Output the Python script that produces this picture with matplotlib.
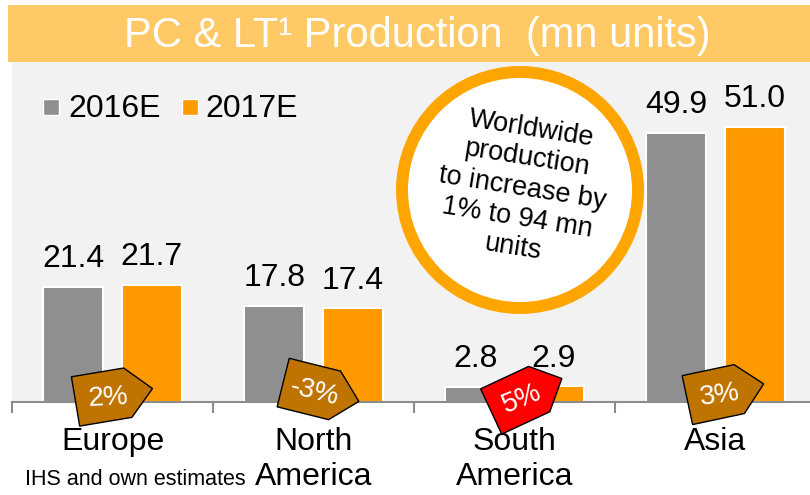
import numpy as np
import matplotlib
matplotlib.use('Agg')
import matplotlib.pyplot as plt
from matplotlib.patches import Rectangle, Ellipse, Polygon
from matplotlib.transforms import Affine2D

plt.rcParams['font.family'] = ['Liberation Sans', 'DejaVu Sans']

# data
regions = ['Europe', 'North\nAmerica', 'South\nAmerica', 'Asia']
prod_2016 = [21.4, 17.8, 2.8, 49.9]
prod_2017 = [21.7, 17.4, 2.9, 51.0]
growth = ['2%', '-3%', '5%', '3%']
years = ['2016E', '2017E']
title = 'PC & LT\u00b9 Production  (mn units)'
note = 'Worldwide\nproduction\nto increase by\n1% to 94 mn\nunits'
source = 'IHS and own estimates'

gray = '#8f8f8f'
orange = '#ff9900'
brown = '#bf7300'

W, H = 810, 495
fig = plt.figure(figsize=(W / 100, H / 100), dpi=100)
# pixel coords, origin top-left
px = Affine2D().scale(1 / W, -1 / H).translate(0, 1) + fig.transFigure


def px_box(x0, y0, x1, y1):
    return [x0 / W, 1 - y1 / H, (x1 - x0) / W, (y1 - y0) / H]


ax = fig.add_axes(px_box(12, 62, 810, 402))
ax.set_facecolor('#f2f2f2')

x = np.arange(len(regions))
w, off = 0.30, 0.195
b1 = ax.bar(x - off, prod_2016, w, color=gray, edgecolor='white', linewidth=1.5)
b2 = ax.bar(x + off, prod_2017, w, color=orange, edgecolor='white', linewidth=1.5)
for bars, vals in ((b1, prod_2016), (b2, prod_2017)):
    for r, v in zip(bars, vals):
        ax.annotate(f'{v:.1f}', (r.get_x() + r.get_width() / 2, v), xytext=(0, 14),
                    textcoords='offset points', ha='center', va='baseline', fontsize=23)

ax.set_xlim(-0.5, 3.47)
ax.set_ylim(0, 63)
for s in ['top', 'right', 'left']:
    ax.spines[s].set_visible(False)
ax.spines['bottom'].set_color('#8c8c8c')
ax.spines['bottom'].set_linewidth(1.5)
ax.set_yticks([])
ax.set_xticks(x)
ax.set_xticklabels(regions, fontsize=23)
ax.tick_params(axis='x', which='major', length=0, pad=18)
ax.set_xticks(x - 0.5, minor=True)
ax.tick_params(axis='x', which='minor', length=8, width=1.5, color='#8c8c8c')

# title bar
fig.add_artist(Rectangle((8, 5), 802, 57, transform=px, facecolor='#ffc966', edgecolor='none'))
fig.text(417 / W, 1 - 36 / H, title, color='white', fontsize=30, ha='center', va='center')

# legend
for (sx, tx), lab, c in zip([(43, 68), (182, 205)], years, [gray, orange]):
    fig.add_artist(Rectangle((sx, 99), 16, 16, transform=px, facecolor=c, edgecolor='white', lw=1))
    fig.text(tx / W, 1 - 117 / H, lab, fontsize=23, va='baseline', ha='left')

fig.text(25 / W, 1 - 485 / H, source, fontsize=15.5, va='baseline', ha='left')

# circle note
fig.add_artist(Ellipse((520, 190), 236, 236, transform=px, facecolor='white',
                       edgecolor='#ffa500', lw=8.6, zorder=5))
fig.text(522 / W, 1 - 188 / H, note, rotation=-9, ha='center', va='center',
         fontsize=19.5, linespacing=1.2, rotation_mode='anchor', zorder=6)

# growth badges
fig.canvas.draw()
shape = np.array([(-39, 25), (14, 25), (39, 0), (14, -25), (-39, -25)])
badge_dx = [1.5, 7.5, 12, 10]
badge_dy = [7, 10, 7, 10]
badge_rot = [9.5, -14, 25, 12]
text_rot = [3, -14, 22, 8]
badge_col = [brown, brown, '#ff0000', brown]
for xi, g, dx, dy, a, ta, c in zip(x, growth, badge_dx, badge_dy, badge_rot, text_rot, badge_col):
    bx, by = ax.transData.transform((xi, 0))
    cx, cy = bx + dx, by + dy
    t = Affine2D().rotate_deg(a).translate(cx, cy)
    fig.add_artist(Polygon(shape, closed=True, transform=t, facecolor=c,
                           edgecolor='black', lw=1, zorder=7))
    tx, ty = Affine2D().rotate_deg(a).transform((-6, -2)) + np.array([cx, cy])
    fig.text(tx / W, ty / H, g, color='white', fontsize=20, rotation=ta,
             rotation_mode='anchor', ha='center', va='center', zorder=8)

fig.savefig('out.png', dpi=100)
